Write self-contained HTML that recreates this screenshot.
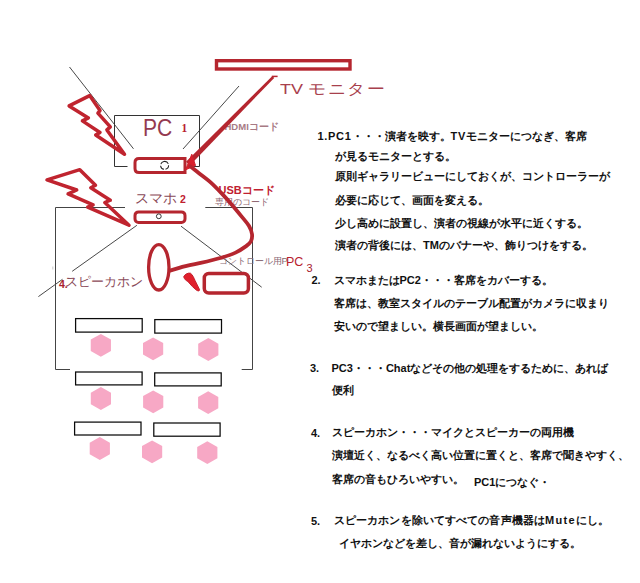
<!DOCTYPE html>
<html lang="ja">
<head>
<meta charset="utf-8">
<style>
html,body{margin:0;padding:0;background:#fff;}
body{width:640px;height:583px;position:relative;overflow:hidden;font-family:"Liberation Sans",sans-serif;}
svg{position:absolute;left:0;top:0;}
.t{position:absolute;white-space:nowrap;line-height:1;}
.b{font-weight:bold;font-size:11px;color:#111;}
.lab{color:#a5485a;}
.red{color:#c0202f;font-weight:bold;}
</style>
</head>
<body>
<svg width="640" height="583" viewBox="0 0 640 583">
  <!-- thin black view lines -->
  <g stroke="#333" stroke-width="0.9" fill="none">
    <line x1="69.5" y1="67" x2="133.5" y2="148.8"/>
    <line x1="239" y1="86" x2="183" y2="149"/>
    <line x1="136.9" y1="225.3" x2="72.2" y2="271.3"/>
    <line x1="62.5" y1="279.3" x2="38.4" y2="296.6"/>
    <line x1="181" y1="226.2" x2="261.7" y2="287.2"/>
  </g>
  <!-- PC box -->
  <g stroke="#333" stroke-width="1" fill="none">
    <polyline points="127.5,166.5 114.5,166.5 114.5,115.5 199.5,115.5 199.5,166.5 193.5,166.5"/>
  </g>
  <!-- room -->
  <g stroke="#444" stroke-width="1" fill="none">
    <polyline points="125,207.5 55.5,207.5 55.5,369.5 70,369.5"/>
    <line x1="52.8" y1="266.5" x2="52.8" y2="269.5" stroke="#bbb" stroke-width="0.8"/>
    <polyline points="205.3,207.5 252.5,207.5 252.5,369.5 241.7,369.5"/>
  </g>
  <!-- TV bar -->
  <rect x="216.5" y="60.7" width="133.5" height="8.3" fill="none" stroke="#b5262f" stroke-width="3.4"/>
  <!-- lightning 1 -->
  <polygon points="89.7,95.6 100,110.6 97.9,113.2 110.3,126.9 106.9,129.9 124.5,154.3 95.7,135 100,132.5 82.4,120.9 88.4,117.9 69.1,105.9"
    fill="none" stroke="#c0242f" stroke-width="3.5" stroke-linejoin="round"/>
  <!-- lightning 2 -->
  <polygon points="79.8,169.7 95.5,185.3 90.8,187.7 110.3,200.2 104.8,202.5 129,225.2 87.7,207.2 93.1,204.8 68.1,193.9 76.7,190 47,179.8"
    fill="none" stroke="#c0242f" stroke-width="3.5" stroke-linejoin="round"/>
  <!-- laptop PC1 -->
  <path d="M139,158.5 L185,158.5 L185,172.5 L139,172.5 Q135,172.5 135,168.5 L135,162.5 Q135,158.5 139,158.5 Z" fill="#fff" stroke="#b5262f" stroke-width="3"/>
  <circle cx="164.6" cy="165.4" r="4" fill="none" stroke="#222" stroke-width="1" stroke-dasharray="5.2 1.6" transform="rotate(-100 164.6 165.4)"/>
  <!-- smartphone -->
  <rect x="135" y="211.9" width="50" height="10.5" rx="3.5" fill="#fff" stroke="#b5262f" stroke-width="3"/>
  <circle cx="158.8" cy="216.3" r="2.4" fill="#fff" stroke="#222" stroke-width="0.9"/>
  <!-- speaker -->
  <ellipse cx="158.8" cy="267.3" rx="10.2" ry="22.7" fill="none" stroke="#b5262f" stroke-width="3.3"/>
  <!-- PC3 -->
  <rect x="204.3" y="273.5" width="44.1" height="19.5" rx="4.5" fill="none" stroke="#b5262f" stroke-width="3.5"/>
  <!-- spike -->
  <path d="M183.7,276.8 C184.5,274.5 188,272.6 190.4,273.2 C192.5,274.5 194,278 195,280.4 L199.6,289.7 C199.5,291 198.5,291.4 196.5,290.2 L192.4,286.6 L187.8,281.4 C186,280.5 184.5,279.5 183.7,276.8 Z" fill="#e0202c" stroke="#c41f2c" stroke-width="1"/>
  <!-- desks -->
  <g fill="none" stroke="#0a0a0a" stroke-width="1.25">
    <rect x="75.6" y="318.6" width="66.6" height="13.5"/>
    <rect x="154.8" y="319.6" width="66.7" height="13.5"/>
    <rect x="75.6" y="372" width="66.5" height="12.9"/>
    <rect x="154.7" y="372.9" width="66.5" height="13"/>
    <rect x="74.6" y="422.1" width="66.4" height="12.9"/>
    <rect x="153.8" y="423" width="66.3" height="13.2"/>
  </g>
  <!-- hexagons -->
  <g fill="#f7a8c5">
    <polygon points="100.85,333.90 110.95,339.60 110.95,351.00 100.85,356.70 90.75,351.00 90.75,339.60"/>
    <polygon points="153.10,337.40 163.20,343.10 163.20,354.50 153.10,360.20 143.00,354.50 143.00,343.10"/>
    <polygon points="208.30,338.10 218.40,343.80 218.40,355.20 208.30,360.90 198.20,355.20 198.20,343.80"/>
    <polygon points="100.90,387.10 111.00,392.80 111.00,404.20 100.90,409.90 90.80,404.20 90.80,392.80"/>
    <polygon points="153.20,390.40 163.30,396.10 163.30,407.50 153.20,413.20 143.10,407.50 143.10,396.10"/>
    <polygon points="208.20,391.20 218.30,396.90 218.30,408.30 208.20,414.00 198.10,408.30 198.10,396.90"/>
    <polygon points="99.80,437.10 109.90,442.80 109.90,454.20 99.80,459.90 89.70,454.20 89.70,442.80"/>
    <polygon points="152.10,440.40 162.20,446.10 162.20,457.50 152.10,463.20 142.00,457.50 142.00,446.10"/>
    <polygon points="207.30,441.20 217.40,446.90 217.40,458.30 207.30,464.00 197.20,458.30 197.20,446.90"/>
  </g>
</svg>

<!-- diagram labels -->
<div class="t lab" style="left:280px;top:81px;font-size:18px;color:#a8404c;transform:scaleY(0.84);transform-origin:0 0;">TV <span style="letter-spacing:1.6px">モニター</span></div>
<div class="t lab" style="left:142.5px;top:116px;font-size:24.5px;color:#943a50;transform:scaleX(0.86);transform-origin:0 0;">PC</div>
<div class="t" style="left:181.6px;top:122.6px;font-size:11.5px;color:#b8202e;font-weight:bold;font-family:'Liberation Serif',serif;">1</div>
<div class="t lab" style="left:224.5px;top:122px;font-size:9.5px;font-weight:bold;color:#a87a84;">HDMIコード</div>
<div class="t lab" style="left:135px;top:191.5px;font-size:13.5px;color:#8a4a58;">スマホ</div>
<div class="t red" style="left:180px;top:193.5px;font-size:10.5px;">2</div>
<div class="t red" style="left:218.5px;top:185px;font-size:11px;">USBコード</div>
<div class="t lab" style="left:214.5px;top:197.8px;font-size:9.3px;color:#8e6470;">専用のコード</div>
<div class="t lab" style="left:218.5px;top:256.3px;font-size:9.4px;color:#8a6a74;">コントロール用P</div>
<div class="t" style="left:286px;top:256px;font-size:12.5px;color:#b8202e;">PC</div>
<div class="t" style="left:306.5px;top:263px;font-size:11px;color:#a8202e;">3</div>
<div class="t red" style="left:59px;top:279px;font-size:10.5px;color:#a8202e;">4.</div>
<div class="t lab" style="left:65px;top:275.3px;font-size:13px;color:#8a4a58;">スピーカホン</div>

<!-- right text -->
<div class="t b" style="left:317.5px;top:131px;"><span style="letter-spacing:0.7px">1.PC1</span>・・・演者を映す。<span style="letter-spacing:0.8px">TV</span>モニターにつなぎ、客席</div>
<div class="t b" style="left:334.5px;top:150.5px;">が見るモニターとする。</div>
<div class="t b" style="left:335px;top:171px;">原則ギャラリービューにしておくが、コントローラーが</div>
<div class="t b" style="left:335px;top:195.3px;">必要に応じて、画面を変える。</div>
<div class="t b" style="left:335px;top:217.8px;">少し高めに設置し、演者の視線が水平に近くする。</div>
<div class="t b" style="left:335px;top:239.8px;">演者の背後には、TMのバナーや、飾りつけをする。</div>
<div class="t b" style="left:311.5px;top:274.8px;">2.</div>
<div class="t b" style="left:333.5px;top:275.1px;">スマホまたはPC2・・・客席をカバーする。</div>
<div class="t b" style="left:333.5px;top:297.5px;">客席は、教室スタイルのテーブル配置がカメラに収まり</div>
<div class="t b" style="left:333.5px;top:321px;">安いので望ましい。横長画面が望ましい。</div>
<div class="t b" style="left:310px;top:363px;">3.</div>
<div class="t b" style="left:331.5px;top:363px;">PC3・・・Chatなどその他の処理をするために、あれば</div>
<div class="t b" style="left:332px;top:385px;">便利</div>
<div class="t b" style="left:311px;top:428px;">4.</div>
<div class="t b" style="left:332px;top:427px;">スピーカホン・・・マイクとスピーカーの両用機</div>
<div class="t b" style="left:332px;top:450px;">演壇近く、なるべく高い位置に置くと、客席で聞きやすく、</div>
<div class="t b" style="left:332px;top:473.5px;">客席の音もひろいやすい。</div>
<div class="t b" style="left:474px;top:476.5px;">PC1につなぐ・</div>
<div class="t b" style="left:311px;top:516px;">5.</div>
<div class="t b" style="left:333.8px;top:515.3px;letter-spacing:0.12px;">スピーカホンを除いてすべての音声機器は<span style="letter-spacing:1.3px">Mute</span>にし。</div>
<div class="t b" style="left:338.5px;top:537.5px;">イヤホンなどを差し、音が漏れないようにする。</div>
<svg width="640" height="583" viewBox="0 0 640 583">
  <!-- TV arrow -->
  <polygon points="274.2,77.9 272.4,76.1 186,161.7 189.8,165.4" fill="#b5262f"/>
  <line x1="271.8" y1="76.4" x2="277.6" y2="76.4" stroke="#b5262f" stroke-width="1.5"/>
  <polygon points="191.8,154.2 185.6,169.8 195.5,165.5" fill="#d8202c" stroke="#d0202c" stroke-width="1" stroke-linejoin="round"/>
  <!-- cord -->
  <path d="M190.3,166.2 C192.3,167.7 197.2,171.7 200.6,174.4 C204.0,177.1 207.5,179.5 210.9,182.6 C214.3,185.7 217.8,189.3 221.2,192.9 C224.6,196.5 228.0,200.2 231.4,204.2 C234.8,208.1 238.8,213.0 241.7,216.6 C244.6,220.2 247.2,222.9 248.9,225.8 C250.6,228.7 251.7,231.5 252,234.1 C252.3,236.7 252.0,239.2 251,241.3 C250.0,243.4 248.4,244.5 245.8,246.4 C243.2,248.3 239.7,250.7 235.6,252.6 C231.5,254.5 227.0,256.0 221.2,257.7 C215.4,259.4 207.5,261.3 200.6,262.9 C193.7,264.4 185.0,266.0 180,267.6 L170,270.6" fill="none" stroke="#b5262f" stroke-width="3.8" stroke-linecap="round"/>
</svg>
</body>
</html>
